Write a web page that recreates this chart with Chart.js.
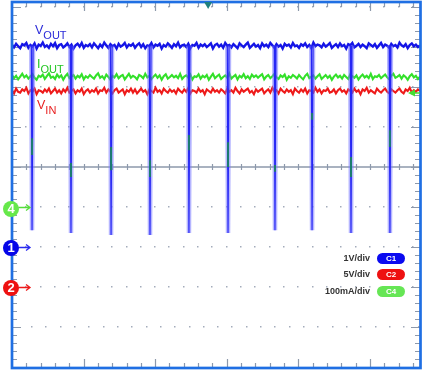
<!DOCTYPE html>
<html><head><meta charset="utf-8">
<script src="https://cdn.jsdelivr.net/npm/chart.js@4.4.1/dist/chart.umd.min.js"></script>
<style>
html,body{margin:0;padding:0;background:#fff;}
#wrap{position:relative;width:432px;height:375px;overflow:hidden;font-family:"Liberation Sans",Arial,sans-serif;}
canvas{position:absolute;left:0;top:0;}
.lbl{position:absolute;white-space:nowrap;line-height:1;}
.lbl .m{font-size:12.5px;}
.lbl .s{font-size:11px;position:relative;top:4.5px;}
.circ{position:absolute;width:16px;height:16px;border-radius:50%;color:#fff;font-weight:bold;font-size:13px;line-height:16px;text-align:center;}
.leg{position:absolute;right:62px;height:11px;line-height:11px;font-size:9px;font-weight:bold;color:#333;white-space:nowrap;}
.pill{position:absolute;left:377px;width:28px;height:11px;border-radius:6px;color:#fff;font-size:8px;font-weight:bold;line-height:11px;text-align:center;}
</style>
</head><body>
<div id="wrap">
<canvas id="c" width="432" height="375"></canvas>
<div class="lbl" style="left:35px;top:21px;color:#2a2ad8"><span class="m">V</span><span class="s">OUT</span></div>
<div class="lbl" style="left:37px;top:55px;color:#22c622"><span class="m">I</span><span class="s">OUT</span></div>
<div class="lbl" style="left:37px;top:96px;color:#e82020"><span class="m">V</span><span class="s">IN</span></div>
<div class="circ" style="left:3px;top:201px;background:#66e84a">4</div>
<div class="circ" style="left:3px;top:240px;background:#0505e8">1</div>
<div class="circ" style="left:3px;top:280px;background:#ee1111">2</div>
<div class="leg" style="top:252.5px">1V/div</div>
<div class="pill" style="top:252.5px;background:#0a0af0">C1</div>
<div class="leg" style="top:269px">5V/div</div>
<div class="pill" style="top:269px;background:#ee1111">C2</div>
<div class="leg" style="top:286px">100mA/div</div>
<div class="pill" style="top:286px;background:#66e655">C4</div>
</div>
<script>
// ---------------- data ----------------
const T_END = 28.5;          // time span of the screen (minor divisions)
const VOUT_LEVEL = 5.03;     // V, level the dropouts start from
// VOUT samples (V), channel 1, evenly sampled across the screen
const voutV = [
  5.06,4.99,5.08,5.02,4.97,5.07,5.04,5.10,4.98,5.05,5.01,5.09,4.96,5.06,5.03,5.11,5.00,5.04,4.98,5.08,
  5.02,5.10,4.97,5.05,5.07,4.99,5.03,5.09,5.00,5.06,4.96,5.04,5.08,5.01,5.10,4.98,5.05,5.02,5.07,4.99,
  5.09,5.03,4.97,5.06,5.00,5.11,5.04,4.98,5.07,5.02,5.05,4.96,5.08,5.01,5.04,5.10,4.99,5.06,5.03,5.08,
  4.98,5.05,5.09,5.00,5.07,4.97,5.04,5.02,5.10,4.99,5.06,5.03,5.08,4.96,5.05,5.01,5.09,5.04,4.98,5.07,
  5.02,5.11,4.99,5.04,5.06,5.00,5.08,4.97,5.05,5.03,5.10,4.98,5.06,5.02,5.07,5.00,5.04,5.09,4.96,5.05,
  5.08,5.01,5.06,4.98,5.10,5.03,5.05,4.99,5.07,5.02,4.97,5.09,5.04,5.00,5.06,5.11,4.98,5.03,5.08,5.01,
  5.05,4.97,5.09,5.02,5.06,5.00,5.10,5.04,4.98,5.07,5.01,5.05,4.96,5.08,5.03,5.06,4.99,5.10,5.02,5.04,
  4.98,5.07,5.03,5.09,5.00,5.05,4.97,5.11,5.02,5.06,5.04,4.99,5.08,5.01,5.05,5.10,4.98,5.03,5.07,5.00,
  5.09,5.02,5.05,4.96,5.07,5.04,5.10,4.99,5.03,5.08,5.00,5.06,5.02,4.97,5.09,5.05,5.01,5.07,4.98,5.04,
  5.10,5.00,5.06,5.03,4.98,5.08,5.02,5.05,4.99,5.11,5.04,5.01,5.07,4.97,5.05,5.09,5.02,5.06,5.00,5.04];
// IOUT samples (mA), channel 4
const ioutMA = [
  330,322,328,319,326,333,324,329,321,327,332,323,318,328,325,331,320,327,334,323,
  326,320,331,324,329,318,327,333,322,326,330,321,328,324,332,319,327,323,330,325,
  321,329,334,323,327,320,331,325,318,328,324,332,322,327,330,319,326,333,323,328,
  325,319,330,327,322,333,324,328,320,326,331,323,329,318,327,332,321,325,330,324,
  328,322,333,320,326,329,323,331,319,327,325,332,321,328,324,330,318,326,333,322,
  327,331,320,325,329,323,334,321,326,330,319,328,324,332,322,327,320,331,325,329,
  323,328,332,319,326,330,322,327,333,324,320,329,325,331,318,327,323,330,326,321,
  330,324,319,328,333,322,326,329,321,327,332,320,325,330,323,328,318,326,331,324,
  328,321,330,325,320,332,327,323,329,319,326,331,324,328,322,333,320,327,325,330,
  322,327,331,324,319,328,333,323,326,330,321,329,325,318,327,332,324,328,320,326];
// VIN samples (V), channel 2
const vinV = [
  24.6,24.2,24.8,24.4,24.3,24.7,24.5,24.9,24.2,24.6,24.4,24.8,24.1,24.6,24.5,24.3,24.7,24.4,24.8,24.2,
  24.5,24.8,24.3,24.6,24.2,24.7,24.4,24.9,24.3,24.5,24.7,24.2,24.6,24.4,24.8,24.1,24.5,24.7,24.3,24.6,
  24.4,24.8,24.2,24.6,24.5,24.9,24.3,24.7,24.4,24.2,24.6,24.8,24.3,24.5,24.7,24.1,24.6,24.4,24.8,24.3,
  24.7,24.2,24.5,24.8,24.4,24.6,24.1,24.7,24.5,24.3,24.9,24.4,24.6,24.2,24.8,24.5,24.3,24.7,24.4,24.6,
  24.2,24.8,24.5,24.3,24.7,24.4,24.9,24.2,24.6,24.5,24.3,24.8,24.4,24.6,24.1,24.7,24.5,24.3,24.8,24.4,
  24.6,24.3,24.7,24.5,24.2,24.8,24.4,24.6,24.3,24.9,24.5,24.2,24.7,24.4,24.6,24.8,24.3,24.5,24.1,24.7,
  24.4,24.6,24.8,24.2,24.5,24.7,24.3,24.9,24.4,24.6,24.2,24.8,24.5,24.3,24.7,24.4,24.6,24.1,24.8,24.5,
  24.3,24.7,24.4,24.8,24.2,24.6,24.5,24.3,24.9,24.4,24.7,24.2,24.6,24.5,24.8,24.3,24.4,24.7,24.2,24.6,
  24.8,24.4,24.6,24.2,24.7,24.5,24.3,24.8,24.4,24.6,24.1,24.7,24.5,24.9,24.3,24.6,24.4,24.2,24.8,24.5,
  24.3,24.6,24.8,24.4,24.2,24.7,24.5,24.3,24.6,24.8,24.4,24.2,24.7,24.5,24.9,24.3,24.6,24.4,24.7,24.5];
// VOUT dropouts: time and minimum (V)
const spikeT    = [1.40, 4.12, 6.92, 9.64, 12.36, 15.09, 18.37, 20.96, 23.68, 26.40];
const spikeMinV = [0.42, 0.35, 0.30, 0.30, 0.35, 0.35, 0.42, 0.42, 0.35, 0.35];
// IOUT drop segments visible at the dropouts (mA)
const iDipHi = [172, 110, 150, 117, 180, 162, 105, 235, 125, 192];
const iDipLo = [130,  75,  92,  75, 142, 100,  88, 218,  75, 150];
// channel settings: units per division and marker position (div)
const CH1 = {scale: 1,   pos: -2, name: 'C1', unit: '1V/div'};
const CH2 = {scale: 5,   pos: -3, name: 'C2', unit: '5V/div'};
const CH4 = {scale: 100, pos: -1, name: 'C4', unit: '100mA/div'};

// ---------------- build ----------------
const toDiv = (v, ch) => v / ch.scale + ch.pos;
const series = (vals, ch) => vals.map((v, i) => ({x: i * T_END / (vals.length - 1), y: toDiv(v, ch)}));
const spikePts = [];
spikeT.forEach((t, i) => {
  const b = toDiv(VOUT_LEVEL, CH1);
  spikePts.push({x: t - 0.05, y: b}, {x: t, y: toDiv(spikeMinV[i], CH1)}, {x: t + 0.07, y: b}, {x: t + 0.08, y: null});
});
const dipPts = [];
spikeT.forEach((t, i) => {
  dipPts.push({x: t, y: toDiv(iDipHi[i], CH4)}, {x: t, y: toDiv(iDipLo[i], CH4)}, {x: t + 0.01, y: null});
});

const Y_MIN = -5.025, Y_MAX = 4.125;
const GRID_ROWS = [-4, -3, -2, -1, 1, 2, 3, 4];

const scopePlugin = {
  id: 'scope',
  beforeDatasetsDraw(chart) {
    const {ctx, chartArea: a, scales: {x, y}} = chart;
    ctx.save();
    ctx.fillStyle = '#a3acbb';
    for (const r of GRID_ROWS) {
      const py = Math.round(y.getPixelForValue(r));
      const off = r === -4 ? 0.4 : 0;
      for (let u = 1; u < T_END; u++) {
        const px = Math.round(x.getPixelForValue(u + off));
        ctx.fillRect(px - 1, py - 1, 1.5, 1.5);
      }
    }
    // centre line
    const cy = y.getPixelForValue(0);
    ctx.strokeStyle = '#8d99ab';
    ctx.lineWidth = 1.5;
    ctx.beginPath(); ctx.moveTo(a.left, cy); ctx.lineTo(a.right, cy); ctx.stroke();
    ctx.lineWidth = 1.2;
    ctx.beginPath();
    for (let u = 1; u < T_END; u++) {
      const px = Math.round(x.getPixelForValue(u)) + 0.5;
      ctx.moveTo(px, cy - 3); ctx.lineTo(px, cy + 3);
    }
    ctx.stroke();
    // edge ticks
    ctx.beginPath();
    for (let k = Math.ceil(Y_MIN * 5); k <= Math.floor(Y_MAX * 5); k++) {
      const py = Math.round(y.getPixelForValue(k / 5)) + 0.5;
      const len = k % 5 === 0 ? 9 : 5;
      ctx.moveTo(a.left, py); ctx.lineTo(a.left + len, py);
      ctx.moveTo(a.right, py); ctx.lineTo(a.right - len, py);
    }
    for (let u = 1; u < T_END; u++) {
      const px = Math.round(x.getPixelForValue(u)) + 0.5;
      const len = u % 5 === 0 ? 9 : 5;
      ctx.moveTo(px, a.top); ctx.lineTo(px, a.top + len);
      ctx.moveTo(px, a.bottom); ctx.lineTo(px, a.bottom - len);
    }
    ctx.stroke();
    ctx.restore();
  },
  afterDatasetsDraw(chart) {
    const {ctx, chartArea: a, scales: {x, y}} = chart;
    ctx.save();
    // frame
    ctx.strokeStyle = '#1f6fe3';
    ctx.lineWidth = 2.7;
    ctx.strokeRect(a.left, a.top, a.right - a.left + 0.5, a.bottom - a.top);
    // channel marker arrows
    [[CH4, '#55dd3a'], [CH1, '#2a2af0'], [CH2, '#ee1a1a']].forEach(([ch, col]) => {
      const py = y.getPixelForValue(ch.pos) + 0.5;
      ctx.strokeStyle = col; ctx.lineWidth = 1.3;
      ctx.beginPath();
      ctx.moveTo(19, py); ctx.lineTo(30, py);
      ctx.moveTo(26, py - 3); ctx.lineTo(30, py); ctx.lineTo(26, py + 3);
      ctx.stroke();
    });
    // trigger position marker (top)
    const tx = x.getPixelForValue(13.7);
    ctx.fillStyle = '#1f8080';
    ctx.beginPath(); ctx.moveTo(tx - 4, a.top); ctx.lineTo(tx + 4, a.top); ctx.lineTo(tx, a.top + 7); ctx.closePath(); ctx.fill();
    // trigger level marker (right)
    const ty = y.getPixelForValue(1.85);
    ctx.fillStyle = '#44dd33';
    ctx.beginPath(); ctx.moveTo(a.right - 12, ty); ctx.lineTo(a.right - 5, ty - 3.5); ctx.lineTo(a.right - 5, ty + 3.5); ctx.closePath(); ctx.fill();
    ctx.strokeStyle = '#44dd33'; ctx.lineWidth = 1.5;
    ctx.beginPath(); ctx.moveTo(a.right - 6, ty); ctx.lineTo(a.right, ty); ctx.stroke();
    ctx.restore();
  }
};

new Chart(document.getElementById('c'), {
  type: 'line',
  data: {
    datasets: [
      {data: dipPts, borderColor: '#1b7d6e', borderWidth: 2, order: 0, spanGaps: false},
      {data: spikePts, borderColor: '#2626f5', borderWidth: 1.2, order: 1, spanGaps: false},
      {data: spikePts, borderColor: 'rgba(120,120,255,0.55)', borderWidth: 4.5, order: 2, spanGaps: false},
      {data: series(voutV, CH1), borderColor: '#1515e6', borderWidth: 2.4, order: 3},
      {data: series(ioutMA, CH4), borderColor: '#33e02a', borderWidth: 2.1, order: 4},
      {data: series(vinV, CH2), borderColor: '#ee1a1a', borderWidth: 2.1, order: 5}
    ]
  },
  options: {
    responsive: false,
    animation: false,
    devicePixelRatio: 1,
    layout: {padding: {left: 12, right: 12, top: 2, bottom: 7}},
    elements: {point: {radius: 0}, line: {tension: 0}},
    plugins: {legend: {display: false}, tooltip: {enabled: false}},
    scales: {
      x: {type: 'linear', min: 0, max: T_END, display: false},
      y: {type: 'linear', min: Y_MIN, max: Y_MAX, display: false}
    }
  },
  plugins: [scopePlugin]
});
</script>
</body></html>
